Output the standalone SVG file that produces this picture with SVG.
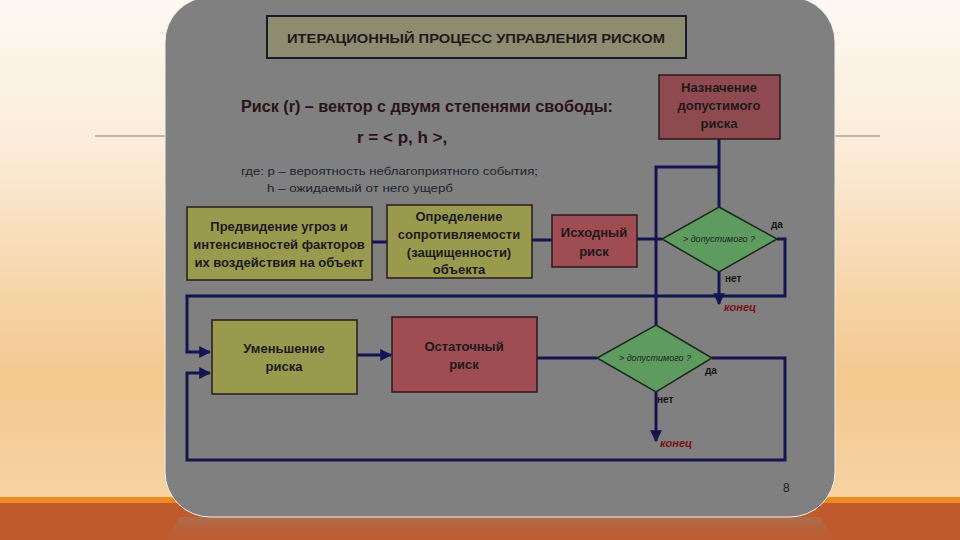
<svg xmlns="http://www.w3.org/2000/svg" width="960" height="540" viewBox="0 0 960 540">
<defs>
<linearGradient id="bg" x1="0" y1="0" x2="0" y2="1">
<stop offset="0" stop-color="#fdf9f2"/>
<stop offset="0.3" stop-color="#fbecd8"/>
<stop offset="0.75" stop-color="#f3c88e"/>
<stop offset="1" stop-color="#f6d3a2"/>
</linearGradient>
<linearGradient id="refl" x1="0" y1="0" x2="0" y2="1">
<stop offset="0" stop-color="#a9704f" stop-opacity="0.9"/>
<stop offset="1" stop-color="#b8603a" stop-opacity="0.3"/>
</linearGradient>
<marker id="arr" viewBox="0 0 10 10" refX="9" refY="5" markerWidth="4" markerHeight="4" orient="auto">
<path d="M0,0 L10,5 L0,10 z" fill="#141450"/>
</marker>
<style>
.box{stroke:#2a1a1a;stroke-width:1.5}
.olive{fill:#9a9a4e}
.red{fill:#a04c53}
.dred{fill:#8e4a50}
.dia{fill:#5e9b5e;stroke:#1a2a1a;stroke-width:1.5}
.t{font-family:"Liberation Sans",Arial,sans-serif;font-weight:bold;font-size:13px;fill:#1e1a1a;text-anchor:middle}
.q{font-family:"Liberation Sans",Arial,sans-serif;font-style:italic;font-size:9px;fill:#1e1e1e;text-anchor:middle}
.s{font-family:"Liberation Sans",Arial,sans-serif;font-weight:bold;font-size:10px;fill:#141414}
.end{font-family:"Liberation Sans",Arial,sans-serif;font-weight:bold;font-style:italic;font-size:11px;fill:#7a1010}
.c{fill:none;stroke:#141450;stroke-width:3}
.note{font-family:"Liberation Sans",Arial,sans-serif;font-size:11px;fill:#23232e}
</style>
</defs>
<rect x="0" y="0" width="960" height="498" fill="url(#bg)"/>
<rect x="0" y="497" width="960" height="6" fill="#ef8a1e"/>
<rect x="0" y="503" width="960" height="37" fill="#c0592c"/>
<path d="M180,517 L820,517 L835,540 L165,540 Z" fill="url(#refl)"/>
<line x1="95" y1="136" x2="880" y2="136" stroke="#8a7a6a" stroke-width="1"/>
<rect x="165" y="-3" width="670" height="520" rx="45" fill="#808080" stroke="#f4f0ea" stroke-width="1"/>

<g id="title">
<rect x="267" y="16" width="419" height="42" fill="#8e8c70" stroke="#1a1a2a" stroke-width="2"/>
<text x="476" y="43" class="t" font-size="14" textLength="378" lengthAdjust="spacingAndGlyphs">ИТЕРАЦИОННЫЙ ПРОЦЕСС УПРАВЛЕНИЯ РИСКОМ</text>
</g>

<g id="formula">
<text x="241" y="112" font-family="'Liberation Sans',Arial,sans-serif" font-weight="bold" font-size="16" fill="#2a1418" textLength="372" lengthAdjust="spacingAndGlyphs">Риск (r) – вектор с двумя степенями свободы:</text>
<text x="357" y="143" font-family="'Liberation Sans',Arial,sans-serif" font-weight="bold" font-size="17" fill="#2a1418">r = &lt; p, h &gt;,</text>
<text x="241" y="175" class="note" textLength="297" lengthAdjust="spacingAndGlyphs">где:  p – вероятность неблагоприятного события;</text>
<text x="267" y="192" class="note" textLength="186" lengthAdjust="spacingAndGlyphs">h – ожидаемый от него ущерб</text>
</g>

<g id="connectors">
<polyline class="c" points="719,139 719,207"/>
<polyline class="c" points="719,167 656,167 656,325"/>
<polyline class="c" points="372,242 387,242"/>
<polyline class="c" points="532,240 552,240"/>
<polyline class="c" points="637,239 662,239"/>
<polyline class="c" points="777,239 785,239 785,296 187,296 187,352 210,352" marker-end="url(#arr)"/>
<polyline class="c" points="719,272 719,304" marker-end="url(#arr)"/>
<polyline class="c" points="357,355 391,355" marker-end="url(#arr)"/>
<polyline class="c" points="537,358 597,358"/>
<polyline class="c" points="712,358 785,358 785,460 187,460 187,373 210,373" marker-end="url(#arr)"/>
<polyline class="c" points="656,392 656,441" marker-end="url(#arr)"/>
</g>

<g id="assign">
<rect x="659" y="75" width="121" height="64" class="box dred"/>
<text x="719" y="92" class="t">Назначение</text>
<text x="719" y="110" class="t">допустимого</text>
<text x="719" y="128" class="t">риска</text>
</g>

<g id="foresee">
<rect x="187" y="207" width="185" height="73" class="box olive" stroke="#5a2a1a"/>
<text x="279" y="231" class="t">Предвидение угроз и</text>
<text x="279" y="249" class="t">интенсивностей факторов</text>
<text x="279" y="267" class="t">их воздействия на объект</text>
</g>

<g id="resist">
<rect x="387" y="205" width="145" height="73" class="box olive"/>
<text x="459" y="221" class="t">Определение</text>
<text x="459" y="239" class="t">сопротивляемости</text>
<text x="459" y="257" class="t">(защищенности)</text>
<text x="459" y="274" class="t">объекта</text>
</g>

<g id="initial">
<rect x="552" y="215" width="85" height="52" class="box red"/>
<text x="594" y="237" class="t">Исходный</text>
<text x="594" y="256" class="t">риск</text>
</g>

<g id="check1">
<polygon points="719,207 777,239 719,272 662,239" class="dia"/>
<text x="719" y="242" class="q">&gt; допустимого ?</text>
<text x="771" y="228" class="s">да</text>
<text x="725" y="282" class="s" font-size="8">нет</text>
<text x="724" y="311" class="end">конец</text>
</g>

<g id="reduce">
<rect x="212" y="320" width="145" height="74" class="box olive"/>
<text x="284" y="353" class="t">Уменьшение</text>
<text x="284" y="371" class="t">риска</text>
</g>

<g id="residual">
<rect x="392" y="317" width="145" height="75" class="box red"/>
<text x="464" y="351" class="t">Остаточный</text>
<text x="464" y="369" class="t">риск</text>
</g>

<g id="check2">
<polygon points="656,325 712,358 656,392 597,358" class="dia"/>
<text x="655" y="361" class="q">&gt; допустимого ?</text>
<text x="705" y="374" class="s">да</text>
<text x="657" y="403" class="s" font-size="8">нет</text>
<text x="660" y="447" class="end">конец</text>
</g>

<text x="783" y="492" font-family="'Liberation Sans',Arial,sans-serif" font-size="12" fill="#222">8</text>
</svg>
